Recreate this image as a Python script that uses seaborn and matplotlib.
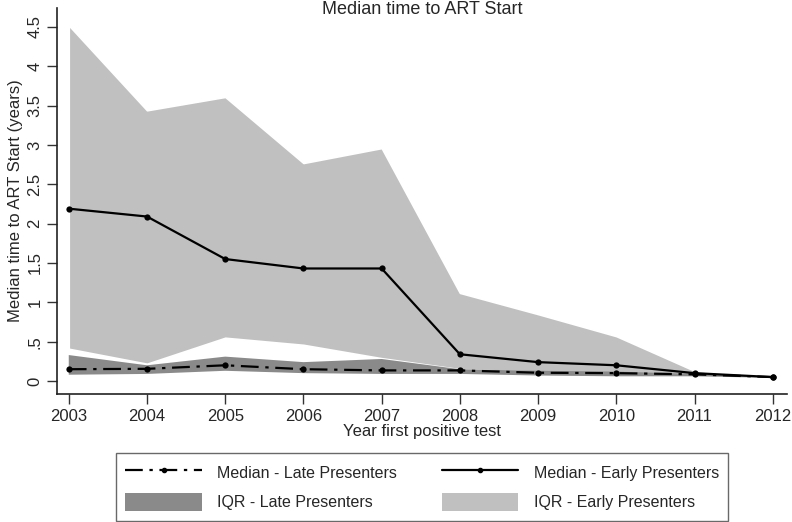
import numpy as np
import pandas as pd
import matplotlib
matplotlib.use("Agg")
import matplotlib.pyplot as plt
import seaborn as sns
from matplotlib.patches import Patch
from matplotlib.lines import Line2D

# Datos
years = [2003, 2004, 2005, 2006, 2007, 2008, 2009, 2010, 2011, 2012]
early_median = [2.19, 2.09, 1.55, 1.43, 1.43, 0.34, 0.24, 0.20, 0.10, 0.05]
early_q1 = [0.41, 0.22, 0.55, 0.46, 0.29, 0.15, 0.12, 0.10, 0.08, 0.05]
early_q3 = [4.52, 3.44, 3.61, 2.77, 2.96, 1.12, 0.85, 0.57, 0.13, 0.05]
late_median = [0.15, 0.155, 0.20, 0.15, 0.135, 0.135, 0.105, 0.10, 0.085, 0.05]
late_q1 = [0.08, 0.09, 0.13, 0.10, 0.09, 0.09, 0.07, 0.06, 0.06, 0.04]
late_q3 = [0.33, 0.20, 0.31, 0.24, 0.28, 0.15, 0.13, 0.12, 0.09, 0.05]
ytick_vals = [0, 0.5, 1, 1.5, 2, 2.5, 3, 3.5, 4, 4.5]
ytick_labels = ['0', '.5', '1', '1.5', '2', '2.5', '3', '3.5', '4', '4.5']

sns.set_style("ticks")
plt.rcParams['font.family'] = ['Liberation Sans', 'DejaVu Sans']

df = pd.DataFrame({'year': years, 'early': early_median, 'late': late_median})

fig = plt.figure(figsize=(7.92, 5.22), dpi=100)
ax = fig.add_axes([0.072, 0.2452, 0.9215, 0.7395])

light = '#c0c0c0'
dark = '#8a8a8a'
dashdot = (0, (8, 3, 1.5, 3))

ax.fill_between(years, early_q1, early_q3, facecolor=light, edgecolor='white', linewidth=1.2, zorder=1)
ax.fill_between(years, late_q1, late_q3, facecolor=dark, edgecolor='none', zorder=2)

sns.lineplot(data=df, x='year', y='late', ax=ax, color='black', linewidth=1.6,
             linestyle=dashdot, marker='o', markersize=4.5,
             markeredgewidth=0, zorder=3)
sns.lineplot(data=df, x='year', y='early', ax=ax, color='black', linewidth=1.6,
             marker='o', markersize=4.5, markeredgewidth=0, zorder=4)

ax.set_xlim(2002.85, 2012.18)
ax.set_ylim(-0.165, 4.74)
ax.set_xticks(years)
ax.set_yticks(ytick_vals)
ax.set_yticklabels(ytick_labels)
plt.setp(ax.get_yticklabels(), rotation=90, va='center')
ax.tick_params(axis='both', labelsize=12, length=7, width=1, color='#333333')
ax.set_xlabel('Year first positive test', fontsize=12, labelpad=0)
ax.set_ylabel('Median time to ART Start (years)', fontsize=12, labelpad=3)
sns.despine(ax=ax)
for s in ['left', 'bottom']:
    ax.spines[s].set_linewidth(1.2)
    ax.spines[s].set_color('#222222')

fig.text(0.533, 0.981, 'Median time to ART Start', ha='center', va='center', fontsize=13)

handles = [
    Line2D([], [], color='black', linewidth=1.6, linestyle=dashdot, marker='o', markersize=3, markevery=[1]),
    Patch(facecolor=dark, edgecolor='none'),
    Line2D([], [], color='black', linewidth=1.6, marker='o', markersize=3, markevery=[1]),
    Patch(facecolor=light, edgecolor='none'),
]
labels = ['Median - Late Presenters', 'IQR - Late Presenters',
          'Median - Early Presenters', 'IQR - Early Presenters']
leg = fig.legend(handles, labels, ncol=2, loc='center', bbox_to_anchor=(0.533, 0.067),
                 fontsize=11.5, frameon=True, fancybox=False, handlelength=4.8,
                 handleheight=1.4, handletextpad=0.95, columnspacing=2.8,
                 labelspacing=0.7, borderpad=0.6, edgecolor='#444444')
leg.get_frame().set_linewidth(1.0)

fig.savefig('out.png', dpi=100)
